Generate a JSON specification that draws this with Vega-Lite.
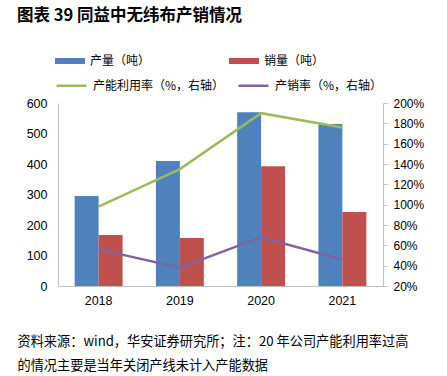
{
  "$schema": "https://vega.github.io/schema/vega-lite/v6.json",
  "autosize": "none",
  "width": 325,
  "height": 183,
  "padding": {"left": 58, "top": 103, "right": 64, "bottom": 90},
  "background": "white",
  "title": {
    "text": "图表 39  同益中无纬布产销情况",
    "anchor": "start",
    "frame": "group",
    "dx": -41,
    "offset": 22,
    "fontSize": 16.5,
    "font": "Noto Sans CJK SC",
    "fontWeight": "bold",
    "color": "#000000"
  },
  "config": {
    "view": {"stroke": null},
    "font": "Liberation Sans",
    "axis": {"labelColor": "#000000", "labelFont": "Liberation Sans", "labelFontSize": 12.5, "grid": false}
  },
  "datasets": {
    "bars": [
      {"year": "2018", "series": "产量（吨）", "value": 295},
      {"year": "2018", "series": "销量（吨）", "value": 167},
      {"year": "2019", "series": "产量（吨）", "value": 410},
      {"year": "2019", "series": "销量（吨）", "value": 157},
      {"year": "2020", "series": "产量（吨）", "value": 570},
      {"year": "2020", "series": "销量（吨）", "value": 393},
      {"year": "2021", "series": "产量（吨）", "value": 531},
      {"year": "2021", "series": "销量（吨）", "value": 243}
    ],
    "lines": [
      {"year": "2018", "series": "产能利用率（%，右轴）", "value": 0.98},
      {"year": "2019", "series": "产能利用率（%，右轴）", "value": 1.35},
      {"year": "2020", "series": "产能利用率（%，右轴）", "value": 1.90},
      {"year": "2021", "series": "产能利用率（%，右轴）", "value": 1.76},
      {"year": "2018", "series": "产销率（%，右轴）", "value": 0.56},
      {"year": "2019", "series": "产销率（%，右轴）", "value": 0.38},
      {"year": "2020", "series": "产销率（%，右轴）", "value": 0.68},
      {"year": "2021", "series": "产销率（%，右轴）", "value": 0.46}
    ]
  },
  "layer": [
    {
      "data": {"name": "bars"},
      "mark": {"type": "bar"},
      "encoding": {
        "x": {
          "field": "year",
          "type": "nominal",
          "scale": {"paddingInner": 0.41, "paddingOuter": 0.205},
          "axis": {
            "labelAngle": 0,
            "ticks": false,
            "domainColor": "#bfbfbf",
            "labelPadding": 8,
            "title": ["资料来源：wind，华安证券研究所；注：20 年公司产能利用率过高", "的情况主要是当年关闭产线未计入产能数据"],
            "titleFont": "Noto Sans CJK SC",
            "titleFontWeight": "normal",
            "titleFontSize": 13.2,
            "titleColor": "#000000",
            "titleAnchor": "start",
            "titleAlign": "left",
            "titleBaseline": "top",
            "titleX": -41,
            "titleY": 49,
            "titleLineHeight": 24
          }
        },
        "xOffset": {"field": "series", "type": "nominal", "sort": ["产量（吨）", "销量（吨）"]},
        "y": {
          "field": "value",
          "type": "quantitative",
          "scale": {"domain": [0, 600]},
          "axis": {
            "title": null,
            "values": [0, 100, 200, 300, 400, 500, 600],
            "ticks": false,
            "domainColor": "#bfbfbf",
            "labelPadding": 11
          }
        },
        "fill": {
          "field": "series",
          "type": "nominal",
          "scale": {"domain": ["产量（吨）", "销量（吨）"], "range": ["#4F81BD", "#C0504D"]},
          "legend": {
            "title": null,
            "orient": "none",
            "legendX": -3,
            "legendY": -57,
            "direction": "horizontal",
            "columns": 2,
            "columnPadding": 78,
            "padding": 0,
            "symbolType": "M-1,-0.2H1V0.2H-1Z",
            "symbolSize": 900,
            "symbolStrokeWidth": 0,
            "labelOffset": 5,
            "labelFont": "Noto Sans CJK SC",
            "labelFontSize": 12,
            "labelColor": "#000000"
          }
        }
      }
    },
    {
      "data": {"name": "lines"},
      "mark": {"type": "line", "strokeWidth": 2.5},
      "encoding": {
        "x": {"field": "year", "type": "nominal"},
        "y": {
          "field": "value",
          "type": "quantitative",
          "scale": {"domain": [0.2, 2.0]},
          "axis": {
            "orient": "right",
            "title": null,
            "format": ".0%",
            "values": [0.2, 0.4, 0.6, 0.8, 1.0, 1.2, 1.4, 1.6, 1.8, 2.0],
            "ticks": true,
            "tickSize": 4,
            "tickColor": "#bfbfbf",
            "domainColor": "#bfbfbf",
            "labelPadding": 6,
            "labelFontSize": 12
          }
        },
        "stroke": {
          "field": "series",
          "type": "nominal",
          "scale": {"domain": ["产能利用率（%，右轴）", "产销率（%，右轴）"], "range": ["#9BBB59", "#8064A2"]},
          "legend": {
            "title": null,
            "orient": "none",
            "legendX": -3,
            "legendY": -34,
            "direction": "horizontal",
            "columns": 2,
            "columnPadding": 8,
            "padding": 0,
            "symbolType": "stroke",
            "symbolSize": 900,
            "symbolStrokeWidth": 2.5,
            "labelOffset": 5,
            "labelFont": "Noto Sans CJK SC",
            "labelFontSize": 12,
            "labelColor": "#000000"
          }
        }
      }
    }
  ],
  "resolve": {"scale": {"y": "independent"}}
}
